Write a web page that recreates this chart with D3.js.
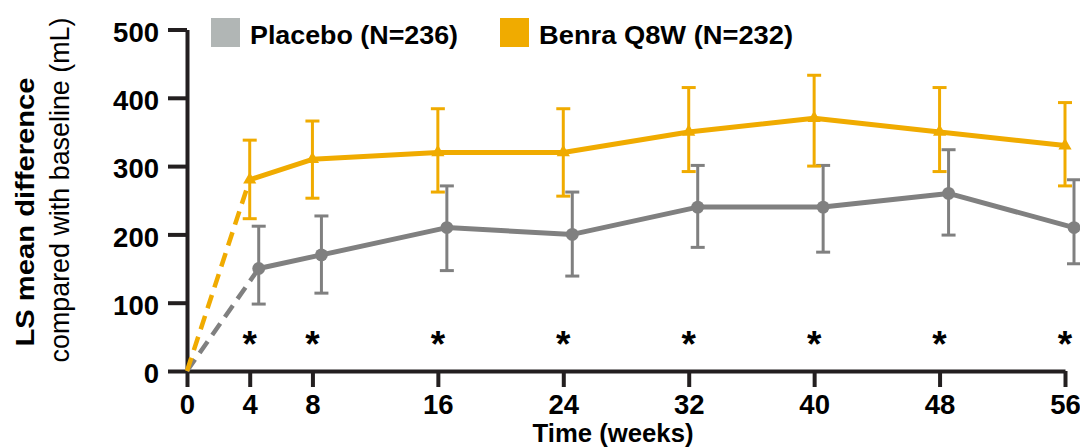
<!DOCTYPE html>
<html>
<head>
<meta charset="utf-8">
<script src="https://cdn.jsdelivr.net/npm/d3@7"></script>
<style>
    body { margin: 0; background: #fff; }
    svg { display: block; font-family: "Liberation Sans", Arial, sans-serif; }
</style>
</head>
<body>
<div id="wrapper"></div>
<script>
// data
const weeks = [4, 8, 16, 24, 32, 40, 48, 56];
const xTicks = [0, 4, 8, 16, 24, 32, 40, 48, 56];
const yTicks = [0, 100, 200, 300, 400, 500];

const placeboMean  = [150, 170, 210, 200, 240, 240, 260, 210];
const placeboUpper = [212, 227, 271, 262, 301, 301, 324, 280];
const placeboLower = [98, 114, 147, 139, 181, 174, 199, 157];

const benraMean  = [280, 310, 320, 320, 350, 370, 350, 330];
const benraUpper = [338, 366, 384, 384, 415, 433, 415, 393];
const benraLower = [223, 253, 262, 256, 292, 300, 292, 271];

const starWeeks = [4, 8, 16, 24, 32, 40, 48, 56];
const starLevel = 47;

const seriesNames = ["Placebo (N=236)", "Benra Q8W (N=232)"];

function buildPlot() {
    const dimension = {
        width: 1080,
        height: 448,
        margin: { top: 29.5, left: 187, bottom: 77, right: 15 }
    };

    const axisColor = "#231f20";
    const greyLine = "#808080";
    const greyLegend = "#b1b6b5";
    const gold = "#f0ab00";

    const svg = d3.select("#wrapper").append("svg")
        .attr("width", dimension.width)
        .attr("height", dimension.height);

    const xScaler = d3.scaleLinear()
        .domain([0, 56])
        .range([dimension.margin.left, dimension.width - dimension.margin.right]);
    const yScaler = d3.scaleLinear()
        .domain([0, 500])
        .range([dimension.height - dimension.margin.bottom, dimension.margin.top]);

    // axes
    const yAxis = svg.append("g")
        .attr("transform", `translate(${dimension.margin.left},0)`)
        .call(d3.axisLeft(yScaler).tickValues(yTicks).tickSize(19).tickSizeOuter(0).tickPadding(9));
    const xAxis = svg.append("g")
        .attr("transform", `translate(0,${yScaler(0)})`)
        .call(d3.axisBottom(xScaler).tickValues(xTicks).tickSize(16).tickSizeOuter(0).tickPadding(7));

    [yAxis, xAxis].forEach(g => {
        g.select(".domain").attr("stroke", axisColor).attr("stroke-width", 4);
        g.selectAll(".tick line").attr("stroke", axisColor).attr("stroke-width", 4);
        g.selectAll(".tick text")
            .attr("fill", "#000")
            .style("font-size", "27.5px")
            .style("font-weight", "bold");
    });
    yAxis.selectAll(".tick text").attr("y", 3);

    svg.append("text")
        .attr("x", 613)
        .attr("y", 442)
        .attr("text-anchor", "middle")
        .attr("textLength", 161)
        .attr("lengthAdjust", "spacingAndGlyphs")
        .style("font-size", "26.5px")
        .style("font-weight", "bold")
        .text("Time (weeks)");

    svg.append("text")
        .attr("transform", "translate(34,212) rotate(-90)")
        .attr("text-anchor", "middle")
        .attr("textLength", 269)
        .attr("lengthAdjust", "spacingAndGlyphs")
        .style("font-size", "26px")
        .style("font-weight", "bold")
        .text("LS mean difference");
    svg.append("text")
        .attr("transform", "translate(69,190) rotate(-90)")
        .attr("text-anchor", "middle")
        .attr("textLength", 345)
        .attr("lengthAdjust", "spacingAndGlyphs")
        .style("font-size", "27px")
        .text("compared with baseline (mL)");

    // series
    const series = [
        { name: seriesNames[0], mean: placeboMean, upper: placeboUpper, lower: placeboLower,
          color: greyLine, legend: greyLegend, shift: 9, symbol: "circle", textLen: 208 },
        { name: seriesNames[1], mean: benraMean, upper: benraUpper, lower: benraLower,
          color: gold, legend: gold, shift: 0, symbol: "triangle", textLen: 254 }
    ];

    const line = d3.line().x(d => d.x).y(d => d.y);

    series.forEach(s => {
        const pts = weeks.map((w, i) => ({
            x: xScaler(w) + s.shift,
            y: yScaler(s.mean[i]),
            hi: yScaler(s.upper[i]),
            lo: yScaler(s.lower[i])
        }));
        const g = svg.append("g");

        // dashed part from baseline to first visit
        g.append("path")
            .attr("d", line([{ x: xScaler(0), y: yScaler(0) }, pts[0]]))
            .attr("fill", "none")
            .attr("stroke", s.color)
            .attr("stroke-width", 4.5)
            .attr("stroke-dasharray", "14 8");

        // error bars
        const bars = g.selectAll(".bar").data(pts).enter().append("g");
        bars.append("line")
            .attr("x1", d => d.x).attr("x2", d => d.x)
            .attr("y1", d => d.hi).attr("y2", d => d.lo)
            .attr("stroke", s.color).attr("stroke-width", 3);
        bars.append("line")
            .attr("x1", d => d.x - 7).attr("x2", d => d.x + 7)
            .attr("y1", d => d.hi).attr("y2", d => d.hi)
            .attr("stroke", s.color).attr("stroke-width", 3);
        bars.append("line")
            .attr("x1", d => d.x - 7).attr("x2", d => d.x + 7)
            .attr("y1", d => d.lo).attr("y2", d => d.lo)
            .attr("stroke", s.color).attr("stroke-width", 3);

        g.append("path")
            .attr("d", line(pts))
            .attr("fill", "none")
            .attr("stroke", s.color)
            .attr("stroke-width", 5)
            .attr("stroke-linejoin", "round");

        const sym = s.symbol === "circle"
            ? d3.symbol().type(d3.symbolCircle).size(130)
            : d3.symbol().type(d3.symbolTriangle).size(75);
        g.selectAll(".marker").data(pts).enter().append("path")
            .attr("d", sym)
            .attr("fill", s.color)
            .attr("transform", d => `translate(${d.x},${d.y})`);
    });

    // significance stars
    svg.selectAll(".star").data(starWeeks).enter().append("text")
        .attr("x", d => xScaler(d))
        .attr("y", yScaler(starLevel) + 18)
        .attr("text-anchor", "middle")
        .style("font-size", "37px")
        .style("font-weight", "bold")
        .text("*");

    // legend
    const legendX = [211, 500];
    series.forEach((s, i) => {
        svg.append("rect")
            .attr("x", legendX[i]).attr("y", 18)
            .attr("width", 29).attr("height", 29)
            .attr("fill", s.legend);
        svg.append("text")
            .attr("x", legendX[i] + 39).attr("y", 44)
            .attr("textLength", s.textLen)
            .attr("lengthAdjust", "spacingAndGlyphs")
            .style("font-size", "26.5px")
            .style("font-weight", "bold")
            .text(s.name);
    });
}

buildPlot();
</script>
</body>
</html>
